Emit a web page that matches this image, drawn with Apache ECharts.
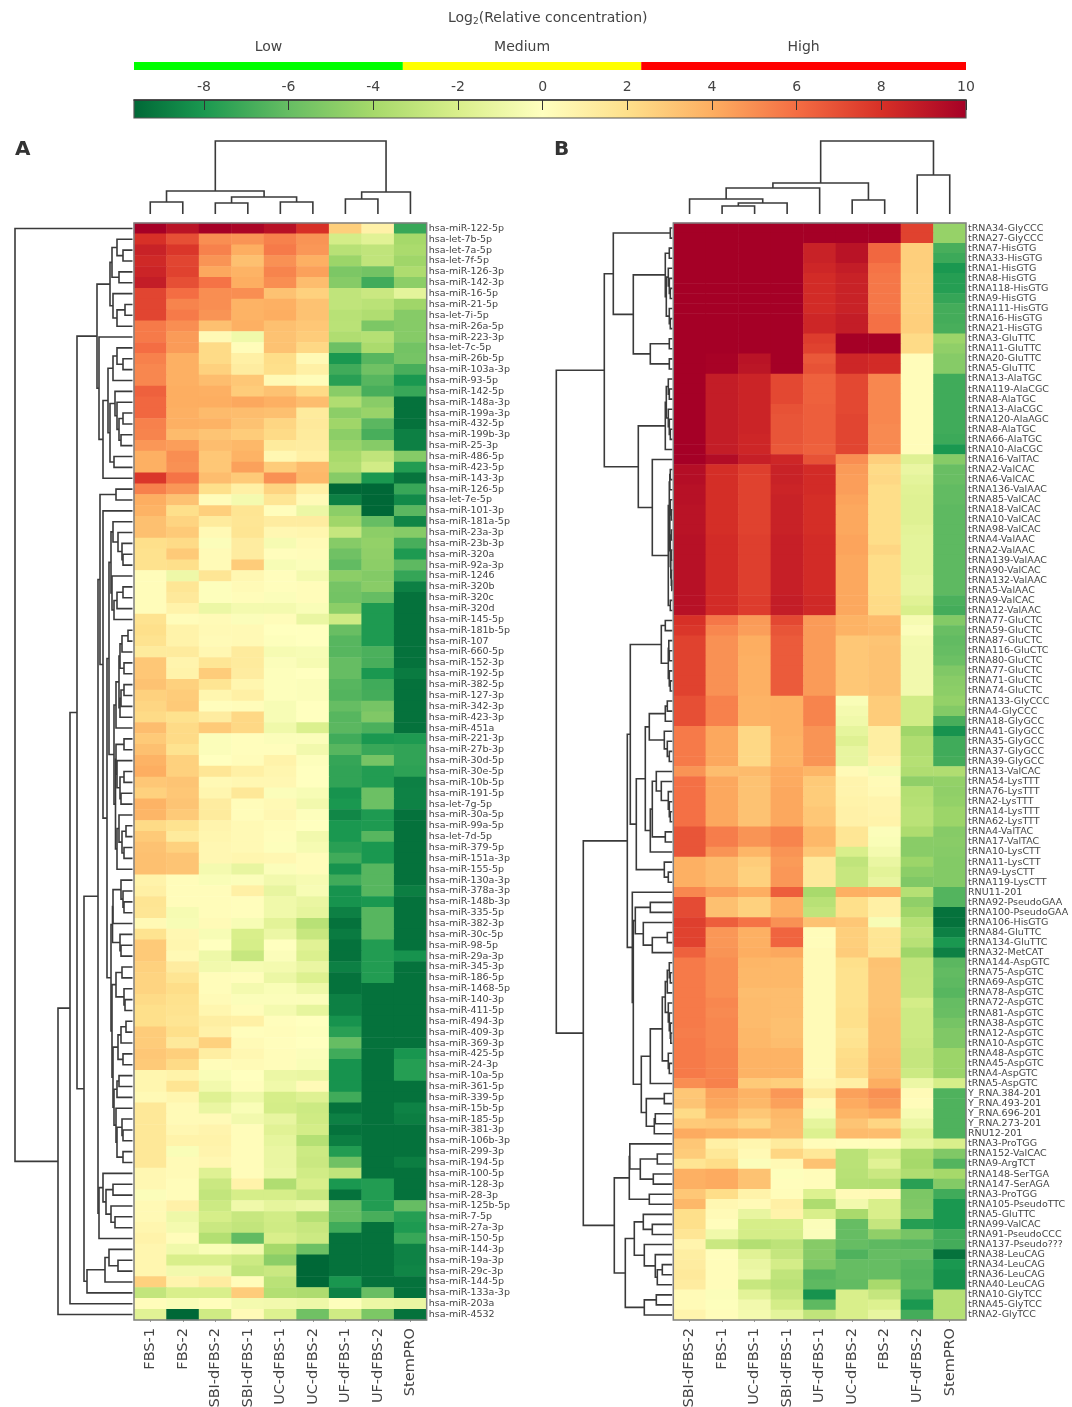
<!DOCTYPE html>
<html><head><meta charset="utf-8">
<style>html,body{margin:0;padding:0;background:#fff}#c{width:1072px;height:1407px}</style>
<script src="https://cdn.jsdelivr.net/npm/echarts@6/dist/echarts.min.js"></script>
</head><body><div id="c"></div>
<script>
const colorStops = ['#006837','#1a9850','#66bd63','#a6d96a','#d9ef8b','#ffffbf','#fee08b','#fdae61','#f46d43','#d73027','#a50026'];
const colorTicks = [-8,-6,-4,-2,0,2,4,6,8,10];
const colorRange = [-9.65,10];
const bandNames = ['Low','Medium','High'];
const bandEdges = [-9.65,-3.3,2.33,10];
const bandColors = ['#00ff00','#ffff00','#ff0000'];

const columnsA = ['FBS-1','FBS-2','SBI-dFBS-2','SBI-dFBS-1','UC-dFBS-1','UC-dFBS-2','UF-dFBS-1','UF-dFBS-2','StemPRO'];
const columnsB = ['SBI-dFBS-2','FBS-1','UC-dFBS-1','SBI-dFBS-1','UF-dFBS-1','UC-dFBS-2','FBS-2','UF-dFBS-2','StemPRO'];

const rowsA = ['hsa-miR-122-5p','hsa-let-7b-5p','hsa-let-7a-5p','hsa-let-7f-5p','hsa-miR-126-3p','hsa-miR-142-3p','hsa-miR-16-5p','hsa-miR-21-5p','hsa-let-7i-5p','hsa-miR-26a-5p','hsa-miR-223-3p','hsa-let-7c-5p','hsa-miR-26b-5p','hsa-miR-103a-3p','hsa-miR-93-5p','hsa-miR-142-5p','hsa-miR-148a-3p','hsa-miR-199a-3p','hsa-miR-432-5p','hsa-miR-199b-3p','hsa-miR-25-3p','hsa-miR-486-5p','hsa-miR-423-5p','hsa-miR-143-3p','hsa-miR-126-5p','hsa-let-7e-5p','hsa-miR-101-3p','hsa-miR-181a-5p','hsa-miR-23a-3p','hsa-miR-23b-3p','hsa-miR-320a','hsa-miR-92a-3p','hsa-miR-1246','hsa-miR-320b','hsa-miR-320c','hsa-miR-320d','hsa-miR-145-5p','hsa-miR-181b-5p','hsa-miR-107','hsa-miR-660-5p','hsa-miR-152-3p','hsa-miR-192-5p','hsa-miR-382-5p','hsa-miR-127-3p','hsa-miR-342-3p','hsa-miR-423-3p','hsa-miR-451a','hsa-miR-221-3p','hsa-miR-27b-3p','hsa-miR-30d-5p','hsa-miR-30e-5p','hsa-miR-10b-5p','hsa-miR-191-5p','hsa-let-7g-5p','hsa-miR-30a-5p','hsa-miR-99a-5p','hsa-let-7d-5p','hsa-miR-379-5p','hsa-miR-151a-3p','hsa-miR-155-5p','hsa-miR-130a-3p','hsa-miR-378a-3p','hsa-miR-148b-3p','hsa-miR-335-5p','hsa-miR-382-3p','hsa-miR-30c-5p','hsa-miR-98-5p','hsa-miR-29a-3p','hsa-miR-345-3p','hsa-miR-186-5p','hsa-miR-1468-5p','hsa-miR-140-3p','hsa-miR-411-5p','hsa-miR-494-3p','hsa-miR-409-3p','hsa-miR-369-3p','hsa-miR-425-5p','hsa-miR-24-3p','hsa-miR-10a-5p','hsa-miR-361-5p','hsa-miR-339-5p','hsa-miR-15b-5p','hsa-miR-185-5p','hsa-miR-381-3p','hsa-miR-106b-3p','hsa-miR-299-3p','hsa-miR-194-5p','hsa-miR-100-5p','hsa-miR-128-3p','hsa-miR-28-3p','hsa-miR-125b-5p','hsa-miR-7-5p','hsa-miR-27a-3p','hsa-miR-150-5p','hsa-miR-144-3p','hsa-miR-19a-3p','hsa-miR-29c-3p','hsa-miR-144-5p','hsa-miR-133a-3p','hsa-miR-203a','hsa-miR-4532'];

const valuesA = [
[10,9.2,10,9.8,9.3,8,2.7,0.9,-7.2],
[8,7,5,4.8,5.4,4.8,-2.2,-1.6,-4],
[8.6,7.8,5.4,4,5.6,4.7,-3.3,-3,-3.8],
[8.3,7.3,4.8,3.3,4.9,3.9,-4.3,-3,-4.2],
[8.5,7.4,4.2,3.8,5.3,4.4,-5.3,-5.6,-3.7],
[8.8,7,5.8,4,5,3.4,-5,-7,-4.8],
[7.3,6,5,5,3.2,2.6,-3,-2.6,-1.4],
[7.3,5.3,5,3.8,3.9,3.2,-3,-3.2,-4.2],
[7.3,5.6,4.8,3.8,4,3.2,-3.3,-3.6,-5],
[5.6,5,3.3,3.9,3.3,3,-3.2,-5.3,-5],
[5.6,4.6,0.4,-0.8,3.2,2.8,-3.6,-3.4,-5],
[6,4.6,2.2,0.2,3.2,2.3,-5.8,-3.8,-5.6],
[5.4,3.9,2.2,1,2.1,0.4,-8,-6.4,-5.5],
[5.2,3.9,2.6,1.2,2,1,-7,-5.7,-6.8],
[5.2,3.9,3.4,3,0.4,0.2,-7.6,-6.4,-8],
[6.4,4,3.9,2.8,3.2,2.2,-4.9,-6.8,-7.2],
[6.2,4,4,4.2,3.9,3.4,-3.6,-4.9,-9.6],
[6.2,3.9,3.5,3.4,3.3,1.3,-4.8,-4.4,-9.6],
[5.4,3.9,3.8,3.2,2.4,1.4,-4.2,-6.3,-9.6],
[5.3,3.5,3.1,2.8,2.2,1.3,-4.8,-6.8,-9],
[4.7,4.5,3.4,3.6,1.3,1.2,-4.4,-5,-9],
[3.9,5,3,3.8,0.5,1,-3.9,-3,-5],
[3.9,4.9,3,4.4,2.8,3.5,-3.6,-2.3,-7.8],
[7.8,5.8,3.4,2.9,4.9,3.6,-5,-8,-9.5],
[5.4,4.7,2,1,2.5,1,-10,-10,-7.2],
[4,3.2,0.2,-0.6,1.6,0.3,-9,-10,-8.6],
[3.8,2,2.7,1.7,0.1,-1,-4.8,-10,-6.3],
[3.3,2.5,1.3,1.6,1.2,1.2,-4.2,-6,-8.8],
[3.3,2.9,0.4,1.7,0.5,0.6,-2.8,-4.8,-5],
[2,2.2,-0.2,1.2,-0.5,0.3,-5,-4.6,-6.8],
[1.9,2.9,0.3,1.2,0.1,0.2,-5.7,-4.7,-7.9],
[1.9,2,0.3,2.8,-0.4,-0.2,-6.1,-4.8,-6.2],
[0.2,-0.9,1.6,0.5,0.1,-0.6,-4.8,-5.1,-7.3],
[0.2,1.6,-0.1,0.3,0.1,0.2,-5.5,-4.9,-9],
[0.2,1.4,-0.1,0.2,-0.2,0.2,-5.6,-6,-9.6],
[0.2,0.8,-1,-0.6,-0.6,-0.3,-4.8,-7.9,-9.6],
[1.8,0.2,0.3,-0.2,0.2,-1.1,-2.4,-7.9,-9.6],
[2,0.8,0.4,0.4,0,0,-5.9,-7.9,-9.6],
[1.8,0.8,0.3,0.4,-0.1,0,-6.4,-7.9,-9.6],
[1.3,1.3,0.5,1.3,-0.5,-0.4,-6.4,-6.7,-9.6],
[3,0.7,1.6,1.3,-0.2,-0.5,-6,-6.8,-9.6],
[3,0.8,2.8,1.2,-0.1,0,-6,-8,-9.2],
[3.2,2.6,1.7,0.6,-0.1,-0.2,-6.4,-7,-9.6],
[2.6,2.8,0.6,1,-0.1,-0.2,-6.5,-6.9,-9.6],
[2.4,2.9,0.1,0.2,-0.4,0,-6,-5.5,-9.6],
[2.2,1.9,1.2,2.3,-0.4,0,-6.4,-5.2,-9.6],
[3.4,2.2,2.9,2.3,-0.8,-1.9,-6.3,-6.7,-9.6],
[2.9,2.2,-0.2,0.1,-0.2,-0.2,-7,-8,-7.9],
[3.3,1.8,-0.2,0.1,0.1,-0.7,-6.4,-7.2,-7.4],
[3.8,2.6,0,0.2,0.8,-0.1,-7.3,-5.5,-7.4],
[4,2.6,1.6,1,0.6,0,-7.4,-7.8,-7.5],
[3,3.1,0.4,0.5,0.5,0,-7.4,-7.8,-9],
[2.6,3,0.6,1.5,-0.2,-0.4,-8.2,-5.8,-8.9],
[3.8,3.1,1.2,0.2,0.4,-0.7,-8,-5.8,-8.9],
[3.7,2.9,1.3,0.2,0.5,-0.1,-8.7,-7.9,-9.6],
[2.2,1.8,0.7,0.4,0.2,0,-8,-7.9,-9.6],
[2.9,1.3,0.6,0.4,0.1,-0.7,-8,-6.4,-9.6],
[3.2,2.6,0.5,0.4,-0.1,-0.5,-7.6,-8,-9.6],
[3.3,3.1,0.5,0.6,0.5,0.2,-7,-8,-9.6],
[3.3,3.1,-0.6,-1.2,-0.2,0.2,-8.2,-6.4,-9.6],
[0.8,0.2,-0.3,-0.2,-0.7,-0.5,-7,-6.4,-9.6],
[1,0.2,0.2,1,-1.2,-0.4,-8.2,-6.4,-9.1],
[1.7,0.2,0.2,0.1,-0.8,-1.1,-8.2,-8,-9.6],
[1.6,-0.5,0.2,0.1,-0.8,-1.3,-9,-6.4,-9.6],
[0.4,-0.4,0.3,-0.4,-1.5,-3.3,-9.6,-6.4,-9.6],
[1.8,0.5,-0.4,-2,-1,-2.7,-9.2,-6.4,-9.6],
[2.9,0.6,0,-2.1,0,-1.6,-9.6,-7.8,-9.6],
[2.9,0.4,-0.9,-2.7,-0.2,-1.9,-9.6,-7.8,-8.2],
[2.6,1.2,-0.7,-0.5,-0.6,-1.1,-9,-7.8,-9.6],
[2.5,1.7,0.2,0.1,-1,-1.8,-9.6,-7.8,-9.6],
[2.5,2.1,0.2,-0.6,-0.3,-0.9,-9.6,-9.6,-9.6],
[2.2,1.9,0.3,-0.2,-0.2,-0.2,-9,-9.6,-9.6],
[2,1.8,0.6,0.2,-0.6,-1.3,-9,-9.6,-9.6],
[2,1.7,1.1,1,0.1,0,-8.2,-9.6,-9.6],
[2.8,2,0.9,0.1,0.2,-0.1,-7.6,-9.6,-9.6],
[2.8,1.4,2.6,0.3,0.1,0,-6,-9.6,-9.6],
[3,2.7,1.1,0.5,0.2,-0.2,-7,-9.6,-8.1],
[2.9,2.2,0.2,0.3,0.2,-0.3,-8.2,-9.6,-7.7],
[0.6,0.8,-0.3,0,-1,-1.1,-8.2,-9.6,-7.7],
[0.6,1.7,-0.7,0.1,-0.8,0.3,-8.2,-9.6,-9.6],
[0.4,0.6,-1.7,-0.9,-2.1,-1.7,-7,-9.6,-9.6],
[1.5,0.3,-1.1,-0.3,-2.2,-2.5,-9.6,-9.6,-8.9],
[1.5,0.3,0.3,-0.7,-1.2,-2.4,-9,-9.6,-9.1],
[1.5,0.5,0.7,0.2,-1.6,-2.2,-9.6,-9.6,-9.6],
[1.5,0.8,0.8,0.2,-1.3,-3.4,-9.1,-9.6,-9.6],
[1.5,-0.3,0.7,0.2,-1.1,-2.5,-7.8,-9.6,-9.6],
[1.5,0.3,0.5,0.2,-1.1,-2.6,-5.7,-9.6,-9.1],
[0.5,0.3,-1.7,0.2,-1,-2.3,-3,-9.6,-9.6],
[0.5,0.2,-2.6,0.8,-3.6,-2,-8,-7.8,-9.6],
[-0.2,0.2,-2.9,-2.1,-2.1,-2.7,-9.6,-7.8,-9.6],
[0.4,0.9,-2.5,-0.8,-1.3,-1,-6,-7.8,-6],
[0.4,-0.9,-2.1,-2.7,-2.3,-3.4,-6,-6.8,-7.7],
[0.6,-0.6,-2.6,-2.9,-2.4,-2.7,-7,-9.6,-7.9],
[0.8,0.2,-3.5,-6.1,-2,-2.5,-9.6,-9.6,-7.2],
[0.6,-0.8,-0.3,-0.7,-4,-5.8,-9.6,-9.6,-8.9],
[0.6,-2,-2,-2.5,-4.8,-10,-9.6,-9.6,-8.9],
[0.6,-0.7,-0.7,-2.9,-2.6,-10,-9.6,-9.6,-8.8],
[2.6,0.7,1.2,0.2,-3.2,-10,-8.1,-9.6,-9.6],
[-2.9,-2,-2,2.8,-3.5,-3.7,-8.9,-5.9,-9.6],
[0.2,-0.3,0.1,-0.6,-0.7,-0.9,-0.1,-1,-1.1],
[-1.6,-10,-2.4,0.3,-1.8,-5.7,-2.4,-5.3,-9.6]
];

const rowsB = ['tRNA34-GlyCCC','tRNA27-GlyCCC','tRNA7-HisGTG','tRNA33-HisGTG','tRNA1-HisGTG','tRNA8-HisGTG','tRNA118-HisGTG','tRNA9-HisGTG','tRNA111-HisGTG','tRNA16-HisGTG','tRNA21-HisGTG','tRNA3-GluTTC','tRNA11-GluTTC','tRNA20-GluTTC','tRNA5-GluTTC','tRNA13-AlaTGC','tRNA119-AlaCGC','tRNA8-AlaTGC','tRNA13-AlaCGC','tRNA120-AlaAGC','tRNA8-AlaTGC','tRNA66-AlaTGC','tRNA10-AlaCGC','tRNA16-ValTAC','tRNA2-ValCAC','tRNA6-ValCAC','tRNA136-ValAAC','tRNA85-ValCAC','tRNA18-ValCAC','tRNA10-ValCAC','tRNA98-ValCAC','tRNA4-ValAAC','tRNA2-ValAAC','tRNA139-ValAAC','tRNA90-ValCAC','tRNA132-ValAAC','tRNA5-ValAAC','tRNA9-ValCAC','tRNA12-ValAAC','tRNA77-GluCTC','tRNA59-GluCTC','tRNA87-GluCTC','tRNA116-GluCTC','tRNA80-GluCTC','tRNA77-GluCTC','tRNA71-GluCTC','tRNA74-GluCTC','tRNA133-GlyCCC','tRNA4-GlyCCC','tRNA18-GlyGCC','tRNA41-GlyGCC','tRNA35-GlyGCC','tRNA37-GlyGCC','tRNA39-GlyGCC','tRNA13-ValCAC','tRNA54-LysTTT','tRNA76-LysTTT','tRNA2-LysTTT','tRNA14-LysTTT','tRNA62-LysTTT','tRNA4-ValTAC','tRNA17-ValTAC','tRNA10-LysCTT','tRNA11-LysCTT','tRNA9-LysCTT','tRNA119-LysCTT','RNU11-201','tRNA92-PseudoGAA','tRNA100-PseudoGAA','tRNA106-HisGTG','tRNA84-GluTTC','tRNA134-GluTTC','tRNA32-MetCAT','tRNA144-AspGTC','tRNA75-AspGTC','tRNA69-AspGTC','tRNA78-AspGTC','tRNA72-AspGTC','tRNA81-AspGTC','tRNA38-AspGTC','tRNA12-AspGTC','tRNA10-AspGTC','tRNA48-AspGTC','tRNA45-AspGTC','tRNA4-AspGTC','tRNA5-AspGTC','Y_RNA.384-201','Y_RNA.493-201','Y_RNA.696-201','Y_RNA.273-201','RNU12-201','tRNA3-ProTGG','tRNA152-ValCAC','tRNA9-ArgTCT','tRNA148-SerTGA','tRNA147-SerAGA','tRNA3-ProTGG','tRNA105-PseudoTTC','tRNA5-GluTTC','tRNA99-ValCAC','tRNA91-PseudoCCC','tRNA137-Pseudo???','tRNA38-LeuCAG','tRNA34-LeuCAG','tRNA36-LeuCAG','tRNA40-LeuCAG','tRNA10-GlyTCC','tRNA45-GlyTCC','tRNA2-GlyTCC'];

const valuesB = [
[10,10,10,10,10,10,10,7.4,-4.5],
[10,10,10,10,10,10,10,7.4,-4.5],
[10,10,10,10,8.6,9.2,6.2,2.7,-6.8],
[10,10,10,10,8.6,9.2,6.2,2.7,-7.1],
[10,10,10,10,8.4,8.8,5.8,2.7,-8],
[10,10,10,10,8.2,8.6,5.7,2.6,-7.7],
[10,10,10,10,8.2,8.6,5.7,2.6,-7.7],
[10,10,10,10,8.2,8.6,5.7,2.6,-7.3],
[10,10,10,10,8.2,8.6,5.7,2.6,-6.9],
[10,10,10,10,8.4,8.8,5.9,2.7,-6.9],
[10,10,10,10,8.4,8.8,5.9,2.7,-6.8],
[10,10,10,10,7.6,10,10,2.2,-4.3],
[10,10,10,10,7.4,10,10,2.2,-4.7],
[10,9.9,9.2,10,6.7,8.4,8.2,0.2,-5],
[10,9.9,9.1,10,6.9,8.4,8.2,0.2,-5],
[10,8.8,8.5,7.2,6.4,7.2,5.2,0.2,-7],
[10,8.8,8.5,7.2,6.4,7.2,5.2,0.2,-7],
[10,8.8,8.5,7.2,6.4,7.2,5.2,0.2,-7],
[10,8.8,8.5,6.9,6.5,7.2,5.2,0.2,-7],
[10,8.8,8.5,6.8,6.5,7.3,5.2,0.2,-7],
[10,8.8,8.5,6.8,6.5,7.3,5.1,0.2,-7],
[10,8.8,8.4,6.8,6.5,7.3,5.1,0.2,-7.1],
[10,8.8,8.4,6.7,6.4,7.3,5.1,0.2,-8],
[10,9.5,8.7,8.4,6.9,5,2.7,-1.7,-5],
[9.4,8.1,7.5,8.6,8.2,4.6,2.2,-1.1,-5.9],
[9.4,8.1,7.4,8.6,8.2,4.5,2.3,-1.4,-5.9],
[9.3,8.1,7.4,8.5,8.2,4.5,2.1,-1.6,-6.1],
[9.3,8.1,7.4,8.6,8.1,4.3,2.1,-1.7,-6.1],
[9.2,8.1,7.4,8.6,8.1,4.2,2.1,-1.7,-6.2],
[9.2,8.1,7.4,8.6,8.1,4.2,2.1,-1.7,-6.2],
[9.2,8.1,7.4,8.6,8.1,4.2,2.1,-1.5,-6.2],
[9.3,8.2,7.5,8.7,8.2,4.3,2.1,-1.4,-6.2],
[9.3,8.2,7.5,8.7,8.2,4.3,2.4,-1.4,-6.2],
[9.3,8.2,7.5,8.7,8.2,4.2,2.1,-1.4,-6.2],
[9.3,8.2,7.5,8.7,8.2,4.2,2.1,-1.4,-6.2],
[9.3,8.2,7.5,8.7,8.2,4.2,2.1,-1.2,-6.2],
[9.3,8.2,7.5,8.7,8.2,4.2,2.1,-1.2,-6.2],
[9.3,8.2,7.6,8.8,8.3,4.2,2.2,-1.6,-6.7],
[9.3,8.2,7.6,8.8,8.3,4.2,2.2,-2,-6.9],
[8,5.7,4.6,7.2,4.6,3.8,3.5,-0.5,-5.1],
[7.8,5.2,4.5,6.8,4.6,3.8,3.6,-0.2,-5.9],
[7.4,4.9,4,6.6,4.6,3,3.1,-0.6,-6.1],
[7.4,4.9,4,6.6,4.6,3,3.2,-0.7,-6],
[7.4,4.9,3.9,6.6,4.6,3,3.2,-0.7,-5.8],
[7.4,4.9,3.9,6.6,4.6,3,3.2,-0.7,-5.2],
[7.4,4.9,3.9,6.6,4.6,3,3.2,-0.7,-4.9],
[7.4,4.9,3.9,6.6,4.6,3,3.2,-0.7,-4.8],
[7,5.4,3.8,3.9,5.3,-0.3,2.8,-2.3,-4.6],
[7,5.4,3.8,3.9,5.3,-0.6,2.8,-2.3,-5.1],
[7,5.4,3.8,3.9,5.3,-0.8,2.8,-2.3,-6.8],
[5.6,4.2,2.3,3.9,4.8,-1.3,1.1,-4.2,-8.2],
[5.6,4.2,2.3,3.8,4.8,-1.7,1.1,-3.6,-7],
[5.6,4.2,2.3,3.8,4.8,-1.2,1.1,-3.6,-7],
[5.6,4.2,2.3,3.8,4.8,-1.2,0.8,-3.4,-6.9],
[4.8,3.4,3.5,4.1,3.7,0.3,-0.5,-3.6,-3.6],
[5.9,4.2,3.2,4.1,2.9,0.7,0.3,-4.7,-4.6],
[5.9,4.2,3.2,4.2,2.8,0.7,0.4,-3.5,-4.7],
[5.9,4.2,3.2,4.2,2.8,0.8,0.7,-3.4,-4.6],
[5.9,4.2,3.2,4.2,3,0.9,0.7,-3.2,-4.3],
[5.9,4.2,3.2,4.2,3,0.9,0.8,-3.2,-4.3],
[6.8,5.5,4.8,5.3,3.6,1.6,-0.2,-3.7,-5],
[6.8,5.5,4.8,5.3,3.6,1.6,-0.3,-4.9,-4.9],
[6.8,4.8,3.7,4.8,3,-2,-0.6,-4.9,-5],
[3.9,3.5,2.8,4.6,1.4,-3,-1.1,-4.3,-5.1],
[3.9,3.5,2.6,4.7,1.4,-2.7,-1.5,-4.8,-5.1],
[3.9,3.5,2.6,4.7,1.4,-2.7,-1.2,-5.2,-5.1],
[5.2,4.5,4,6.5,-3.9,3.9,3.8,-3.4,-6.5],
[7.1,3.3,2.6,3.9,-3.3,2,1,-4.7,-6.5],
[7.1,3.3,2.6,3.9,-3,2,1,-4.2,-9.6],
[7.5,6.5,5.8,4.9,3.2,3,-0.4,-3.4,-9.6],
[7.4,4.7,3.9,6.3,0.2,2.7,1.6,-3,-9],
[7.4,4.7,3.9,6.3,0.2,2.7,1.7,-3.3,-8],
[6.4,4.8,4,4.2,0.3,2.8,1.7,-4.2,-9],
[5.6,5,3.7,3.6,0.3,2,3.2,-3,-6.3],
[5.6,5,3.6,3.6,0.3,1.9,3.1,-3,-6.1],
[5.6,5,3.6,3.6,0.3,1.9,3.1,-2.9,-6.2],
[5.6,5,3.4,3.4,0.3,1.9,3.1,-2.9,-6.4],
[5.6,5.2,3.5,3.4,0.3,1.9,3.1,-2.2,-6],
[5.6,5.1,3.5,3.4,0.3,2,3.2,-2.5,-5.9],
[5.6,5.2,3.5,3.3,0.3,2,3.3,-2.5,-5.5],
[5.5,5.2,3.6,3.3,0.3,1.7,3.3,-2.5,-5.2],
[5.6,5.2,3.6,3.4,0.3,1.8,3.3,-2.6,-5.2],
[5.6,5.3,3.8,3.8,0.3,2.1,3.4,-2.8,-4.3],
[5.6,5.3,3.8,3.8,0.3,2.2,3.5,-2.8,-4.3],
[5.6,5.3,3.8,3.8,0.3,2.2,3.5,-2.5,-4.3],
[5,5.4,2.9,2.7,0.6,1,4,-1,-2.1],
[3,4.4,3.8,4.7,1.3,4.4,4.9,0.3,-6.6],
[3.1,4.2,3.6,4.4,0.3,4.1,4.6,0.2,-6.6],
[2.2,3.8,3,3.6,-0.4,3.7,4,-0.5,-6.6],
[2.9,3,2.4,3.4,-1.3,3.1,2.4,-1,-6.6],
[4.1,3.8,3.5,3.3,-1.8,3.5,3.4,-1.8,-6.6],
[3,1,0.6,1.3,0.2,0.1,0.2,-1.3,-2],
[2.8,1.5,0.4,2.4,1.5,-3.2,-2.2,-3.9,-5.2],
[1.7,2.1,-0.2,0.4,3.2,-3.2,-1.6,-4,-6.5],
[3.9,4.1,3.2,-0.1,0.2,-3.3,-2.6,-3.6,-4],
[3.9,4.1,3.2,0.1,0.2,-3.4,-3.5,-7.6,-5.1],
[3,2.1,0.8,0.2,-1.8,0.3,0.4,-5.3,-7],
[3.6,0.5,0.3,1,-3.7,-0.7,-2,-5.2,-8],
[2,0.3,-1.2,0.8,-2,-3.9,-2,-5,-8],
[2,0.1,-2.1,-2.1,-0.2,-6,-2.8,-7.7,-8],
[1.6,-0.8,-2.2,-2.2,-0.2,-6,-4.7,-5.5,-7],
[0.7,-2.6,-3.5,-3.1,-5,-6,-6.2,-6.4,-6.9],
[1.1,0.1,-1.6,-2.8,-5,-6.6,-6,-6,-9.6],
[1.2,0.2,-1.1,-2.2,-5.2,-6,-6,-6.4,-8],
[1.4,0.2,-0.9,-3,-6.4,-6,-6,-6.5,-8.3],
[1.2,0.2,-2.7,-3.2,-6.2,-6.1,-3.9,-6.4,-8.3],
[0.3,-0.2,-1.5,-2.8,-8.2,-2,-2.8,-7,-3.4],
[0.3,-0.1,-0.7,-2.2,-6.2,-2,-1.8,-8,-3.4],
[0.7,0.2,-0.6,-1.4,-3,-2,-1.2,-6.9,-3.4]
];

// Dendrograms: a node is [height, childA, childB]; L is one leaf, taken in row/column order.
const L = 0;
const treeColsA = [73,[23,[12,L,L],[17,[11,L,L],[12,L,L]]],[22,[15,L,L],L]];
const treeColsB = [73,[31,[26,[15,L,[11,[8,L,L],L]],L],[14,L,L]],[39,L,L]];
const treeRowsA = [119,L,[76,[64,[57,
  [37,
    [24,[22,[17,L,[11,L,L]],[15,L,L]],[21,L,[17,[9,L,L],L]]],
    [35,L,[31,[26,[21,[17,L,[11,L,L]],L],[24,[19,L,[17,L,[15,[11,L,L],[13,L,L]]]],[20,L,L]]],L]]],
  [50,
    [36,
      [34,[18,L,L],[31,L,[27,
        [25,[23,[21,L,[16,L,[12,L,[11,L,L]]]],[22,L,[20,[17,[11,L,L],L],L]]],
            [20,[18,[15,[14,[12,[6,L,L],L],[10,L,L]],[14,[13,[10,L,L],L],L]],L],
                [18.5,[18,[10,L,L],[17,L,[14,[10,L,L],[13,L,L]]]],[17,[15,L,[12,[8,L,L],[10,L,L]]],L]]]],
        [23,[21.5,[21,[13,L,[11,L,[10,L,L]]],L],[14,L,[13,L,L]]],
            [22,[18,[12,L,L],[10,L,[9,L,L]]],
                [21,[16,[13,[8,L,L],L],[11,L,L]],[20,[17,[15,L,L],L],[18,L,[17,[12,L,[11,L,L]],[11,L,L]]]]]]]]]],
      [35,[31,L,[28,[21,L,L],[23,L,[19,L,L]]]],L]],
    [47,[29,[25,L,[16,L,L]],L],L]]],L],L]];
const treeRowsB = [117,
  [69,
    [60,[3,L,L],[40,[8,[4,L,L],[7,[5,L,[4,L,[3,L,L]]],[4,L,[3,L,L]]]],[23,[4,L,L],[4,L,L]]]],
    [35,[8,[7,[5,L,[4,L,L]],[5,L,[4,L,[3,L,L]]]],L],
        [21,L,[5,[4,[3.5,[3,L,L],L],[3.5,[3,L,[2,L,L]],[3,[2,L,L],[2.5,[2,L,L],[2,L,[1.5,L,L]]]]]],[3,L,L]]]]],
  [90,
    [46,
      [43,[12,[8,L,L],[5,[4.5,L,[4,L,L]],[4,L,[3,L,L]]]],
          [37,[28,[24,[8,[6,L,L],L],[9,L,[6,L,[4,L,L]]]],[23,[21,[17,L,[12,L,[5,L,[4,L,[3,L,L]]]]],[8,L,L]],L]],[9,L,[5,L,L]]]],
      [41,L,[40,[38,[23,L,L],[30,L,[21,[6,L,L],L]]],
                [32,[23,[11,[8,[6,[4,L,[3,L,L]],L],[5,L,[4,L,[3,L,[2.5,L,L]]]]],[5,L,[4,L,L]]],L],[27,[9,L,L],[19,[18,L,L],L]]]]]],
    [59,
      [44,[43.5,L,[33,[16,L,L],[20,L,L]]],[24,L,L]],
      [48,[39,[30,L,[21,L,L]],[29,L,[18,L,[16,[11,L,L],L]]]],[29,[17,L,L],L]]]]];

function flatten(tree, leafHeight){
  const out=[]; let i=0;
  (function walk(n){
    if(!Array.isArray(n)){const p=i+0.5;i++;return {p:p,h:leafHeight};}
    const a=walk(n[1]), b=walk(n[2]);
    out.push([n[0],a.p,a.h,b.p,b.h]);
    return {p:(a.p+b.p)/2,h:n[0]};
  })(tree);
  return out;
}
function cells(values){
  const out=[];
  values.forEach((r,y)=>r.forEach((v,x)=>out.push([x,y,v])));
  return out;
}

const font='"DejaVu Sans"';
const ink='#444';
const lineColor='#3a3a3a';
function dendro(xi,yi,data,horizontal){
  return {type:'custom',xAxisIndex:xi,yAxisIndex:yi,data:data,silent:true,clip:false,animation:false,
    encode:horizontal?{x:0,y:1}:{x:1,y:0},
    renderItem:function(p,api){
      const h=api.value(0),a=api.value(1),ha=api.value(2),b=api.value(3),hb=api.value(4);
      const pts=horizontal?[[ha,a],[h,a],[h,b],[hb,b]]:[[a,ha],[a,h],[b,h],[b,hb]];
      return {type:'polyline',shape:{points:pts.map(q=>api.coord(q))},style:{stroke:lineColor,lineWidth:1.6,fill:null}};
    }};
}
const hiddenAxis=(o)=>Object.assign({type:'value',show:false,splitLine:{show:false}},o);
const heatX=(cols,g)=>({type:'category',gridIndex:g,data:cols,position:'bottom',
  axisLine:{show:false},splitArea:{show:false},splitLine:{show:false},
  axisTick:{show:true,length:2,alignWithLabel:true,lineStyle:{color:'#999'}},
  axisLabel:{interval:0,rotate:90,fontFamily:font,fontSize:14.5,color:ink,margin:8,padding:[4,0,0,0]}});
const heatY=(rows,g)=>({type:'category',gridIndex:g,data:rows,inverse:true,position:'right',
  axisLine:{show:false},axisTick:{show:false},splitArea:{show:false},splitLine:{show:false},
  axisLabel:{interval:0,fontFamily:font,fontSize:9.5,color:ink,margin:2}});

const bandData=bandNames.map((n,i)=>[bandEdges[i],bandEdges[i+1],i]);
const T=1407, W=1072;
const gridBase={outerBoundsMode:'none',containLabel:false};
const option={
  animation:false,backgroundColor:'#fff',
  textStyle:{fontFamily:font},
  title:[
    {text:'{a|Log}{s|2}{a|(Relative concentration)}',left:443,top:6,textStyle:{fontWeight:'normal',rich:{a:{fontFamily:font,fontSize:14,fontWeight:'normal',color:ink},s:{fontFamily:font,fontSize:9,fontWeight:'normal',color:ink,verticalAlign:'bottom',padding:[6,0,0,0]}}}},
    {text:'A',left:10,top:135,textStyle:{fontFamily:font,fontSize:20,fontWeight:'bold',color:'#333'}},
    {text:'B',left:549,top:135,textStyle:{fontFamily:font,fontSize:20,fontWeight:'bold',color:'#333'}}
  ],
  visualMap:{show:false,min:-10,max:10,seriesIndex:[2,3],inRange:{color:colorStops}},
  grid:[
    {left:134,width:832,top:62,height:8},
    {left:134,width:832,top:100,height:18},
    {left:134,width:292.7,top:223,height:1097,show:true,borderColor:'#808080',borderWidth:1.5,backgroundColor:'transparent',z:5},
    {left:673.3,width:292.7,top:223,height:1097,show:true,borderColor:'#808080',borderWidth:1.5,backgroundColor:'transparent',z:5},
    {left:134,width:292.7,top:134,height:80},
    {left:673.3,width:292.7,top:134,height:80},
    {left:9,width:125,top:223,height:1097},
    {left:548.3,width:125,top:223,height:1097}
  ].map(g=>Object.assign({},gridBase,g)),
  xAxis:[
    hiddenAxis({gridIndex:0,min:colorRange[0],max:colorRange[1]}),
    {type:'value',gridIndex:1,position:'top',min:colorRange[0],max:colorRange[1],splitLine:{show:false},z:5,
      axisLine:{show:true,onZero:false,lineStyle:{color:'#333',width:1.5}},
      axisTick:{show:true,inside:true,length:10,customValues:colorTicks,lineStyle:{color:'#333',width:1}},
      axisLabel:{fontFamily:font,fontSize:14,color:ink,margin:6,customValues:colorTicks,hideOverlap:false,showMinLabel:true,showMaxLabel:true}},
    heatX(columnsA,2),
    heatX(columnsB,3),
    hiddenAxis({gridIndex:4,min:0,max:9}),
    hiddenAxis({gridIndex:5,min:0,max:9}),
    hiddenAxis({gridIndex:6,min:0,max:125,inverse:true}),
    hiddenAxis({gridIndex:7,min:0,max:125,inverse:true})
  ],
  yAxis:[
    hiddenAxis({gridIndex:0,min:0,max:1}),
    hiddenAxis({gridIndex:1,min:0,max:1}),
    heatY(rowsA,2),
    heatY(rowsB,3),
    hiddenAxis({gridIndex:4,min:0,max:80}),
    hiddenAxis({gridIndex:5,min:0,max:80}),
    hiddenAxis({gridIndex:6,min:0,max:rowsA.length,inverse:true}),
    hiddenAxis({gridIndex:7,min:0,max:rowsB.length,inverse:true})
  ],
  series:[
    {type:'custom',xAxisIndex:0,yAxisIndex:0,data:bandData,silent:true,clip:false,encode:{x:[0,1]},
      renderItem:function(p,api){
        const a=api.coord([api.value(0),0]),b=api.coord([api.value(1),1]);const i=api.value(2);
        return {type:'group',children:[
          {type:'rect',shape:{x:a[0],y:b[1],width:b[0]-a[0],height:a[1]-b[1]},style:{fill:bandColors[i]}},
          {type:'text',style:{text:bandNames[i],x:(a[0]+b[0])/2,y:b[1]-15,align:'center',verticalAlign:'middle',font:'14px '+font,fill:ink}}
        ]};
      }},
    {type:'custom',xAxisIndex:1,yAxisIndex:1,data:[[colorRange[0],colorRange[1]]],silent:true,clip:false,encode:{x:[0,1]},z:1,
      renderItem:function(p,api){
        const a=api.coord([api.value(0),0]),b=api.coord([api.value(1),1]);
        // gradient stops sit at -10,-8,...,10 on the same scale
        const span=colorRange[1]-colorRange[0];
        const stops=colorStops.map((c,i)=>({offset:Math.max(0,(-10+2*i-colorRange[0])/span),color:c}));
        return {type:'rect',shape:{x:a[0],y:b[1],width:b[0]-a[0],height:a[1]-b[1]},
          style:{fill:new echarts.graphic.LinearGradient(0,0,1,0,stops),stroke:'#555',lineWidth:1.2}};
      }},
    {type:'heatmap',xAxisIndex:2,yAxisIndex:2,data:cells(valuesA),silent:true,emphasis:{disabled:true},itemStyle:{borderWidth:0},progressive:0},
    {type:'heatmap',xAxisIndex:3,yAxisIndex:3,data:cells(valuesB),silent:true,emphasis:{disabled:true},itemStyle:{borderWidth:0},progressive:0},
    dendro(4,4,flatten(treeColsA,0),false),
    dendro(5,5,flatten(treeColsB,0),false),
    dendro(6,6,flatten(treeRowsA,1.5),true),
    dendro(7,7,flatten(treeRowsB,1),true)
  ]
};
const chart=echarts.init(document.getElementById('c'),null,{renderer:'canvas',width:W,height:T});
chart.setOption(option);
</script></body></html>
